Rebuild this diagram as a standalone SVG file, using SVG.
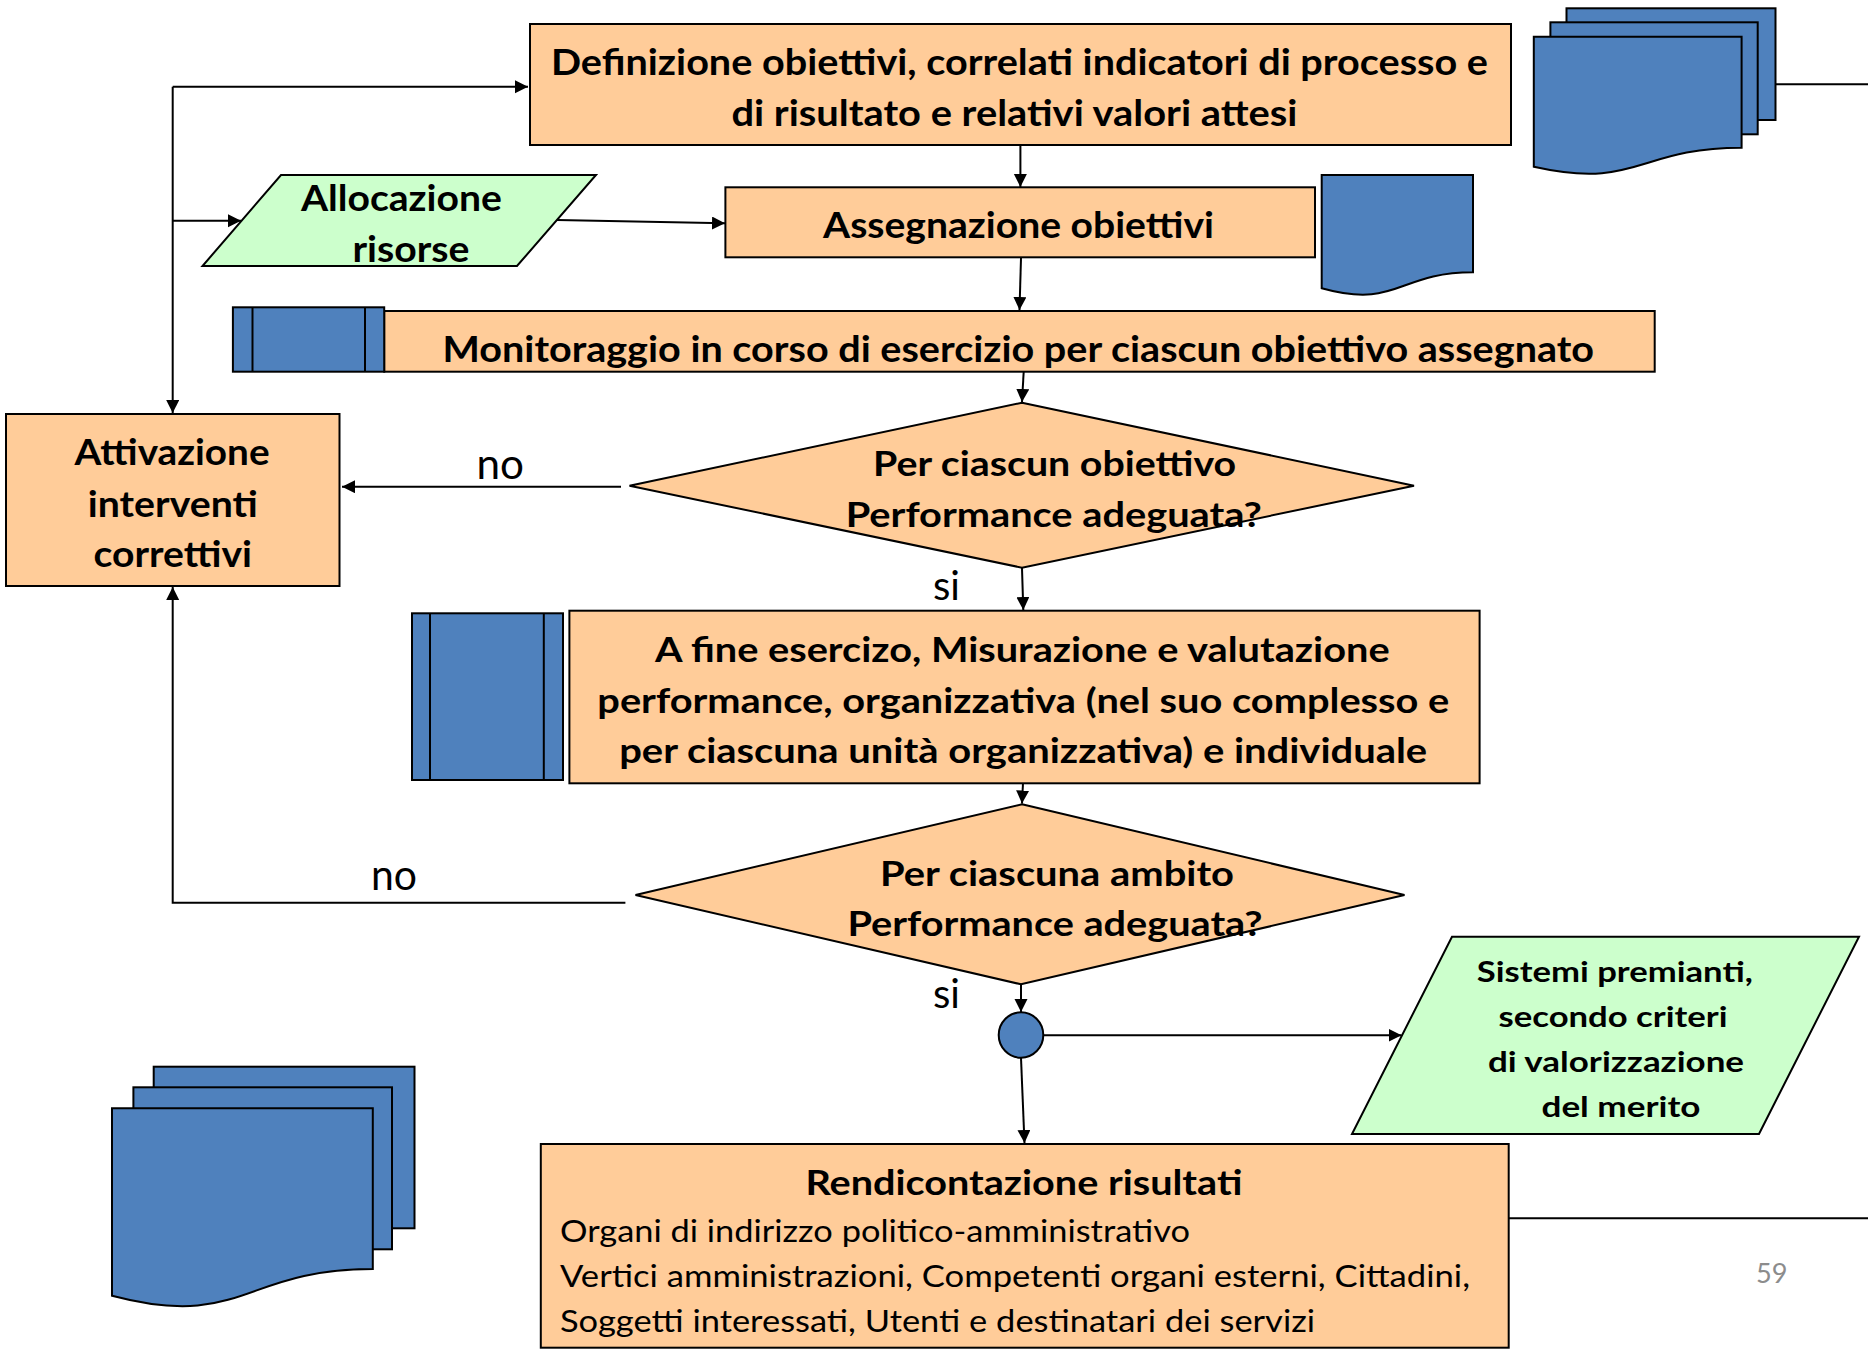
<svg xmlns="http://www.w3.org/2000/svg" width="1868" height="1349" viewBox="0 0 1868 1349">
  <style>
    .proc { fill: #FFCC99; stroke: #000; stroke-width: 2; }
    .io { fill: #CCFFCC; stroke: #000; stroke-width: 2; }
    .blue { fill: #4F81BD; stroke: #000; stroke-width: 2; }
    .edge { fill: none; stroke: #000; stroke-width: 2; }
    .arrow { marker-end: url(#head); }
    .b { font-family: Lato, "Liberation Sans", sans-serif; font-weight: 700; fill: #000; text-anchor: middle; }
    .r { font-family: Lato, "Liberation Sans", sans-serif; font-weight: 400; fill: #000; }
  </style>
  <defs>
    <marker id="head" markerUnits="userSpaceOnUse" markerWidth="14" markerHeight="14" refX="13" refY="6.5" orient="auto">
      <path d="M0,0 L13,6.5 L0,13 z" fill="#000"/>
    </marker>
  </defs>
  <rect width="1868" height="1349" fill="#fff"/>

  <!-- connectors -->
  <g id="connectors">
    <path class="edge arrow" d="M172.7,86.7 H528"/>
    <path class="edge arrow" d="M172.7,86.7 V413"/>
    <path class="edge arrow" d="M172.7,220.7 H241"/>
    <path class="edge arrow" d="M557,220 L725,223.3"/>
    <path class="edge arrow" d="M1020.4,146 L1020.4,187"/>
    <path class="edge arrow" d="M1021,258 L1019.5,310"/>
    <path class="edge arrow" d="M1024,366 L1022,402"/>
    <path class="edge arrow" d="M621,486.7 H342"/>
    <path class="edge arrow" d="M1022,568 L1023.3,610"/>
    <path class="edge arrow" d="M1023,783 L1022,803.5"/>
    <path class="edge arrow" d="M625.4,902.7 H172.7 V587"/>
    <path class="edge arrow" d="M1021,984.3 V1012"/>
    <path class="edge arrow" d="M1043,1035.3 H1401.5"/>
    <path class="edge arrow" d="M1021,1058 L1024.5,1143"/>
    <path class="edge" d="M1775.6,84.3 H1868"/>
    <path class="edge" d="M1504,1218.3 H1868"/>
  </g>

  <!-- objectives definition -->
  <g id="definizione">
    <rect class="proc" x="530" y="24" width="981" height="121"/>
    <text class="b" font-size="36" x="1019.5" y="75" textLength="937" lengthAdjust="spacingAndGlyphs">Definizione obiettivi, correlati indicatori di processo e</text>
    <text class="b" font-size="36" x="1014.4" y="126" textLength="566" lengthAdjust="spacingAndGlyphs">di risultato e relativi valori attesi</text>
  </g>

  <!-- stacked documents, top right -->
  <g id="documenti-alto">
    <rect class="blue" x="1566.5" y="8.3" width="209" height="111.7"/>
    <rect class="blue" x="1550.4" y="22.3" width="207.3" height="112"/>
    <path class="blue" d="M1533.8,36.7 H1741.6 V147.7 C1637.7,147.7 1637.7,190 1533.8,166.8 Z"/>
  </g>

  <!-- resource allocation -->
  <g id="allocazione">
    <polygon class="io" points="281,175 596,175 517,266 202.5,266"/>
    <text class="b" font-size="36" x="401.4" y="211" textLength="201" lengthAdjust="spacingAndGlyphs">Allocazione</text>
    <text class="b" font-size="36" x="411" y="262" textLength="117" lengthAdjust="spacingAndGlyphs">risorse</text>
  </g>

  <!-- assignment -->
  <g id="assegnazione">
    <rect class="proc" x="725.4" y="187.3" width="589.6" height="70"/>
    <text class="b" font-size="36" x="1018.5" y="238" textLength="391" lengthAdjust="spacingAndGlyphs">Assegnazione obiettivi</text>
  </g>

  <g id="documento-assegnazione">
    <path class="blue" d="M1321.7,175 H1473 V272.3 C1397.4,272.3 1397.4,309.4 1321.7,288.3 Z"/>
  </g>

  <!-- monitoring -->
  <g id="monitoraggio">
    <rect class="proc" x="384.2" y="311" width="1270.5" height="60.7"/>
    <rect class="blue" x="232.9" y="307.3" width="151.3" height="64.4"/>
    <line class="edge" x1="252.5" y1="307.3" x2="252.5" y2="371.7"/>
    <line class="edge" x1="365" y1="307.3" x2="365" y2="371.7"/>
    <text class="b" font-size="36" x="1018.3" y="362" textLength="1151.5" lengthAdjust="spacingAndGlyphs">Monitoraggio in corso di esercizio per ciascun obiettivo assegnato</text>
  </g>

  <!-- corrective actions -->
  <g id="attivazione">
    <rect class="proc" x="6" y="414" width="333.5" height="172"/>
    <text class="b" font-size="36" x="172.1" y="465" textLength="195" lengthAdjust="spacingAndGlyphs">Attivazione</text>
    <text class="b" font-size="36" x="172.8" y="516.7" textLength="170" lengthAdjust="spacingAndGlyphs">interventi</text>
    <text class="b" font-size="36" x="172.8" y="566.7" textLength="158.5" lengthAdjust="spacingAndGlyphs">correttivi</text>
  </g>

  <!-- first decision -->
  <g id="decisione-obiettivo">
    <polygon class="proc" points="1022,402.7 1414,485.7 1022,567.7 629.5,485.7"/>
    <text class="b" font-size="34" x="1054.6" y="476" textLength="363" lengthAdjust="spacingAndGlyphs">Per ciascun obiettivo</text>
    <text class="b" font-size="34" x="1053.7" y="527" textLength="416" lengthAdjust="spacingAndGlyphs">Performance adeguata?</text>
  </g>
  <text class="r" font-size="42" x="476.5" y="479" textLength="47.5" lengthAdjust="spacingAndGlyphs">no</text>
  <text class="r" font-size="40" x="933" y="600" textLength="27" lengthAdjust="spacingAndGlyphs">si</text>

  <!-- year-end measurement -->
  <g id="misurazione">
    <rect class="proc" x="569.4" y="610.7" width="910.2" height="172.6"/>
    <rect class="blue" x="412" y="613.3" width="151" height="166.7"/>
    <line class="edge" x1="430" y1="613.3" x2="430" y2="780"/>
    <line class="edge" x1="543.8" y1="613.3" x2="543.8" y2="780"/>
    <text class="b" font-size="35" x="1022.3" y="661.7" textLength="734.6" lengthAdjust="spacingAndGlyphs">A fine esercizo, Misurazione e valutazione</text>
    <text class="b" font-size="35" x="1023.3" y="713.3" textLength="852" lengthAdjust="spacingAndGlyphs">performance, organizzativa (nel suo complesso e</text>
    <text class="b" font-size="35" x="1023.2" y="763.3" textLength="808" lengthAdjust="spacingAndGlyphs">per ciascuna unità organizzativa) e individuale</text>
  </g>

  <!-- second decision -->
  <g id="decisione-ambito">
    <polygon class="proc" points="1022,804.3 1404.5,895 1021,984.3 635.5,895"/>
    <text class="b" font-size="34" x="1057" y="886" textLength="354" lengthAdjust="spacingAndGlyphs">Per ciascuna ambito</text>
    <text class="b" font-size="34" x="1055" y="936" textLength="415" lengthAdjust="spacingAndGlyphs">Performance adeguata?</text>
  </g>
  <text class="r" font-size="42" x="371" y="890" textLength="46" lengthAdjust="spacingAndGlyphs">no</text>
  <text class="r" font-size="40" x="933" y="1008.3" textLength="27" lengthAdjust="spacingAndGlyphs">si</text>

  <!-- junction -->
  <g id="giunzione">
    <ellipse class="blue" cx="1021" cy="1035" rx="22.3" ry="22.7"/>
  </g>

  <!-- reward systems -->
  <g id="sistemi-premianti">
    <polygon class="io" points="1452,936.7 1859,936.7 1759,1134 1352,1134"/>
    <text class="b" font-size="29" x="1614.8" y="981.7" textLength="276" lengthAdjust="spacingAndGlyphs">Sistemi premianti,</text>
    <text class="b" font-size="29" x="1613" y="1026.7" textLength="229" lengthAdjust="spacingAndGlyphs">secondo criteri</text>
    <text class="b" font-size="29" x="1616" y="1071.7" textLength="256" lengthAdjust="spacingAndGlyphs">di valorizzazione</text>
    <text class="b" font-size="29" x="1621" y="1116.7" textLength="159" lengthAdjust="spacingAndGlyphs">del merito</text>
  </g>

  <!-- stacked documents, bottom left -->
  <g id="documenti-basso">
    <rect class="blue" x="153.7" y="1066.7" width="260.8" height="161.6"/>
    <rect class="blue" x="133.4" y="1087.3" width="258.6" height="162"/>
    <path class="blue" d="M112,1108.3 H372.8 V1269 C242.4,1269 242.4,1330.3 112,1295.8 Z"/>
  </g>

  <!-- reporting -->
  <g id="rendicontazione">
    <rect class="proc" x="540.8" y="1144" width="967.9" height="203.7"/>
    <text class="b" font-size="35" x="1023.9" y="1195" textLength="437" lengthAdjust="spacingAndGlyphs">Rendicontazione risultati</text>
    <text class="r" font-size="31" x="560" y="1241.7" textLength="630" lengthAdjust="spacingAndGlyphs">Organi di indirizzo politico-amministrativo</text>
    <text class="r" font-size="31" x="560" y="1286.7" textLength="910" lengthAdjust="spacingAndGlyphs">Vertici amministrazioni, Competenti organi esterni, Cittadini,</text>
    <text class="r" font-size="31" x="560" y="1331.7" textLength="755" lengthAdjust="spacingAndGlyphs">Soggetti interessati, Utenti e destinatari dei servizi</text>
  </g>

  <text class="r" font-size="27" x="1756" y="1282.7" fill="#8C8C8C" style="fill:#8C8C8C" textLength="31.5" lengthAdjust="spacingAndGlyphs">59</text>
</svg>
